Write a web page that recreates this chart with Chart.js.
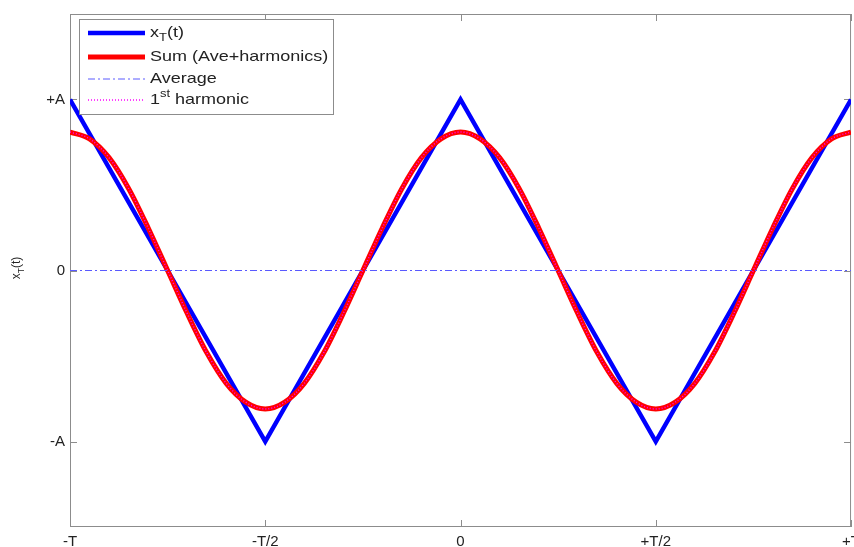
<!DOCTYPE html>
<html>
<head>
<meta charset="utf-8">
<script src="https://cdn.jsdelivr.net/npm/chart.js@4/dist/chart.umd.min.js"></script>
<style>
  html, body { margin: 0; padding: 0; background: #fff; overflow: hidden; }
  #wrap { width: 866px; height: 547px; }
</style>
</head>
<body>
<div id="wrap"><canvas id="myChart"></canvas></div>
<script>
// time in units of T
const triTimes = [-1, -0.5, 0, 0.5, 1];
const triValues = [1, -1, 1, -1, 1];

const sumTimes = [-1, -0.95, -0.9, -0.85, -0.8, -0.75, -0.7, -0.65, -0.6, -0.55, -0.5,
    -0.45, -0.4, -0.35, -0.3, -0.25, -0.2, -0.15, -0.1, -0.05, 0,
    0.05, 0.1, 0.15, 0.2, 0.25, 0.3, 0.35, 0.4, 0.45, 0.5,
    0.55, 0.6, 0.65, 0.7, 0.75, 0.8, 0.85, 0.9, 0.95, 1];
const sumValues = [0.81, 0.77, 0.66, 0.48, 0.25, 0, -0.25, -0.48, -0.66, -0.77, -0.81,
    -0.77, -0.66, -0.48, -0.25, 0, 0.25, 0.48, 0.66, 0.77, 0.81,
    0.77, 0.66, 0.48, 0.25, 0, -0.25, -0.48, -0.66, -0.77, -0.81,
    -0.77, -0.66, -0.48, -0.25, 0, 0.25, 0.48, 0.66, 0.77, 0.81];
const harmonicValues = sumValues.slice();

const avgTimes = [-1, 1];
const avgValues = [0, 0];

const xTickValues = [-1, -0.5, 0, 0.5, 1];
const xTickLabels = ['-T', '-T/2', '0', '+T/2', '+T'];
const yTickValues = [-1, 0, 1];
const yTickLabels = ['-A', '0', '+A'];

const FONT = '"Liberation Sans", Arial, Helvetica, sans-serif';

function pts(xs, ys) {
    return xs.map((x, i) => ({ x: x, y: ys[i] }));
}

// draws text pieces (with sub/sup), stretched horizontally a little
function richText(ctx, x, y, parts, size, stretch) {
    ctx.save();
    ctx.translate(x, y);
    ctx.scale(stretch, 1);
    let cx = 0;
    parts.forEach(p => {
        const s = p.small ? size * 0.72 : size;
        ctx.font = s + 'px ' + FONT;
        const dy = p.sub ? size * 0.35 : (p.sup ? -size * 0.4 : 0);
        ctx.fillText(p.t, cx, dy);
        cx += ctx.measureText(p.t).width;
    });
    ctx.restore();
}

function richWidth(ctx, parts, size) {
    let w = 0;
    parts.forEach(p => {
        ctx.font = (p.small ? size * 0.72 : size) + 'px ' + FONT;
        w += ctx.measureText(p.t).width;
    });
    return w;
}

const boxPlugin = {
    id: 'boxPlugin',
    beforeDatasetsDraw(chart) {
        const { ctx, chartArea: a, scales } = chart;
        ctx.save();
        ctx.strokeStyle = '#8c8c8c';
        ctx.lineWidth = 1;
        ctx.strokeRect(a.left + 0.5, a.top + 0.5, a.right - a.left - 1, a.bottom - a.top - 1);
        ctx.beginPath();
        xTickValues.forEach(v => {
            const px = Math.round(scales.x.getPixelForValue(v)) + 0.5;
            ctx.moveTo(px, a.bottom); ctx.lineTo(px, a.bottom - 7);
            ctx.moveTo(px, a.top); ctx.lineTo(px, a.top + 7);
        });
        yTickValues.forEach(v => {
            const py = Math.round(scales.y.getPixelForValue(v)) + 0.5;
            ctx.moveTo(a.left, py); ctx.lineTo(a.left + 7, py);
            ctx.moveTo(a.right, py); ctx.lineTo(a.right - 7, py);
        });
        ctx.stroke();
        ctx.restore();
    },
    afterDraw(chart) {
        const ctx = chart.ctx;
        ctx.save();
        ctx.fillStyle = '#222';
        ctx.textBaseline = 'middle';

        // y axis title, rotated
        const titleParts = [{ t: 'x' }, { t: 'T', small: true, sub: true }, { t: '(t)' }];
        const tw = richWidth(ctx, titleParts, 12);
        ctx.save();
        ctx.translate(17, 268);
        ctx.rotate(-Math.PI / 2);
        richText(ctx, -tw / 2, 0, titleParts, 12, 1);
        ctx.restore();

        // legend box
        const lx = 79, ly = 19, lw = 254, lh = 95;
        ctx.fillStyle = '#fff';
        ctx.fillRect(lx, ly, lw, lh);
        ctx.strokeStyle = '#8c8c8c';
        ctx.lineWidth = 1;
        ctx.strokeRect(lx + 0.5, ly + 0.5, lw, lh);

        const rows = [
            { ds: 0, y: 33, parts: [{ t: 'x' }, { t: 'T', small: true, sub: true }, { t: '(t)' }] },
            { ds: 1, y: 57, parts: [{ t: 'Sum (Ave+harmonics)' }] },
            { ds: 2, y: 79, parts: [{ t: 'Average' }] },
            { ds: 3, y: 100, parts: [{ t: '1' }, { t: 'st', small: true, sup: true }, { t: ' harmonic' }] }
        ];
        rows.forEach(r => {
            const d = chart.data.datasets[r.ds];
            ctx.save();
            ctx.strokeStyle = d.borderColor;
            ctx.lineWidth = d.borderWidth;
            ctx.setLineDash(d.borderDash || []);
            ctx.beginPath();
            ctx.moveTo(88, r.y);
            ctx.lineTo(145, r.y);
            ctx.stroke();
            ctx.restore();
            ctx.fillStyle = '#222';
            richText(ctx, 150, r.y, r.parts, 15, 1.2);
        });
        ctx.restore();
    }
};

new Chart(document.getElementById('myChart'), {
    type: 'line',
    data: {
        datasets: [
            {
                label: 'x_T(t)',
                data: pts(triTimes, triValues),
                borderColor: 'rgb(0, 0, 255)',
                borderWidth: 4.5,
                pointRadius: 0,
                order: 4
            },
            {
                label: 'Sum (Ave+harmonics)',
                data: pts(sumTimes, sumValues),
                borderColor: 'rgb(255, 0, 0)',
                borderWidth: 5,
                pointRadius: 0,
                cubicInterpolationMode: 'monotone',
                order: 3
            },
            {
                label: 'Average',
                data: pts(avgTimes, avgValues),
                borderColor: 'rgb(90, 90, 255)',
                borderWidth: 1,
                borderDash: [7, 3, 2, 3],
                pointRadius: 0,
                order: 2
            },
            {
                label: '1st harmonic',
                data: pts(sumTimes, harmonicValues),
                borderColor: 'rgb(255, 0, 255)',
                borderWidth: 1.5,
                borderDash: [1, 2],
                pointRadius: 0,
                cubicInterpolationMode: 'monotone',
                order: 1
            }
        ]
    },
    options: {
        responsive: true,
        maintainAspectRatio: false,
        animation: false,
        layout: { padding: { top: 11, left: 0, right: 0, bottom: 0 } },
        plugins: {
            legend: { display: false },
            tooltip: { enabled: false }
        },
        scales: {
            x: {
                type: 'linear',
                min: -1,
                max: 1,
                afterBuildTicks: s => { s.ticks = xTickValues.map(v => ({ value: v })); },
                afterFit: s => { s.height = 20; },
                ticks: {
                    autoSkip: false,
                    maxRotation: 0,
                    padding: 6,
                    color: '#222',
                    font: { family: FONT, size: 15 },
                    callback: v => xTickLabels[xTickValues.indexOf(v)]
                },
                grid: { display: false, drawTicks: false },
                border: { display: false }
            },
            y: {
                min: -1.5,
                max: 1.5,
                afterBuildTicks: s => { s.ticks = yTickValues.map(v => ({ value: v })); },
                afterFit: s => { s.width = 70; },
                ticks: {
                    padding: 5,
                    color: '#222',
                    font: { family: FONT, size: 15 },
                    callback: v => yTickLabels[yTickValues.indexOf(v)]
                },
                grid: { display: false, drawTicks: false },
                border: { display: false }
            }
        }
    },
    plugins: [boxPlugin]
});
</script>
</body>
</html>
